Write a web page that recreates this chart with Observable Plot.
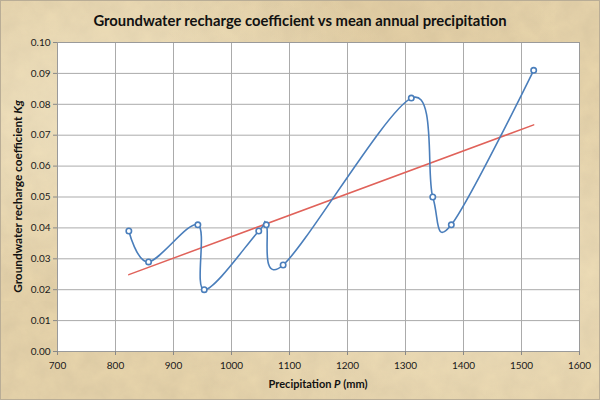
<!DOCTYPE html>
<html>
<head>
<meta charset="utf-8">
<script src="https://cdn.jsdelivr.net/npm/d3@7"></script>
<script src="https://cdn.jsdelivr.net/npm/@observablehq/plot@0.6"></script>
<style>
  html, body { margin: 0; padding: 0; }
  #wrap {
    position: relative; width: 600px; height: 400px; box-sizing: border-box;
    border: 1px solid #b9ad96;
    background-color: #e9d6ac;
    background-image:
      radial-gradient(ellipse at 20% 30%, rgba(255,248,225,0.4), rgba(255,248,225,0) 45%),
      radial-gradient(ellipse at 80% 70%, rgba(255,245,220,0.3), rgba(255,245,220,0) 50%),
      radial-gradient(ellipse at 60% 10%, rgba(210,185,140,0.25), rgba(210,185,140,0) 40%),
      url("data:image/svg+xml;utf8,<svg xmlns='http://www.w3.org/2000/svg' width='300' height='300'><filter id='n'><feTurbulence type='fractalNoise' baseFrequency='0.05' numOctaves='4' seed='3'/><feColorMatrix values='0 0 0 0 0.55  0 0 0 0 0.45  0 0 0 0 0.3  0 0 0 0.4 0'/></filter><rect width='300' height='300' filter='url(%23n)'/></svg>");
    font-family: Lato, "Open Sans", sans-serif;
    overflow: hidden;
  }
  #title {
    height: 30px; line-height: 38px; text-align: center;
    font-weight: bold; font-size: 14.8px; color: #111;
  }
</style>
</head>
<body>
<div id="wrap">
  <div id="title">Groundwater recharge coefficient vs mean annual precipitation</div>
  <div id="chart"></div>
</div>
<script>
// Data
const precipitation = [823, 857, 942, 953, 1047, 1060, 1089, 1310, 1347, 1379, 1521];
const rechargeCoef  = [0.039, 0.029, 0.041, 0.020, 0.039, 0.041, 0.028, 0.082, 0.050, 0.041, 0.091];
const xTicks = [700, 800, 900, 1000, 1100, 1200, 1300, 1400, 1500, 1600];
const yTicks = [0, 0.01, 0.02, 0.03, 0.04, 0.05, 0.06, 0.07, 0.08, 0.09, 0.10];

const data = precipitation.map((p, i) => ({p, k: rechargeCoef[i]}));

const gridColor = "#ababab";
const blue = "#4a7ebb";
const red = "#e0625a";

const W = 598, H = 368, mL = 56, mR = 20, mT = 11, mB = 48;

const chart = Plot.plot({
  width: W,
  height: H,
  marginLeft: mL,
  marginRight: mR,
  marginTop: mT,
  marginBottom: mB,
  style: {fontFamily: "Lato, 'Open Sans', sans-serif", fontSize: "10px", color: "#1a1a1a", background: "transparent"},
  x: {domain: [700, 1600]},
  y: {domain: [0, 0.1]},
  marks: [
    Plot.frame({fill: "white"}),
    Plot.gridX(xTicks, {stroke: gridColor, strokeOpacity: 1, strokeWidth: 1}),
    Plot.gridY(yTicks, {stroke: gridColor, strokeOpacity: 1, strokeWidth: 1}),
    Plot.frame({stroke: "#9a9a9a"}),
    Plot.axisY(yTicks, {tickFormat: d => d.toFixed(2), tickSize: 4, tickPadding: 3, stroke: "#888", label: null}),
    Plot.axisX(xTicks, {tickFormat: d => String(d), tickSize: 4, tickPadding: 6, stroke: "#888", label: null}),
    Plot.linearRegressionY(data, {x: "p", y: "k", stroke: red, strokeWidth: 1.5, ci: 0}),
    Plot.line(data, {x: "p", y: "k", curve: "cardinal", stroke: blue, strokeWidth: 1.6}),
    Plot.dot(data, {x: "p", y: "k", r: 2.7, fill: "white", stroke: blue, strokeWidth: 1.6})
  ]
});
document.getElementById("chart").appendChild(chart);

// Axis titles with italic symbols
const svg = d3.select(chart);
const plotLeft = mL, plotRight = W - mR, plotTop = mT, plotBottom = H - mB;
const yt = svg.append("text")
  .attr("transform", `translate(18,${(plotTop + plotBottom) / 2}) rotate(-90)`)
  .attr("text-anchor", "middle")
  .attr("dominant-baseline", "middle")
  .attr("font-weight", "bold")
  .attr("font-size", "11.8px")
  .attr("fill", "#111");
yt.append("tspan").text("Groundwater recharge coefficient ");
yt.append("tspan").attr("font-style", "italic").text("Kg");

const xt = svg.append("text")
  .attr("x", (plotLeft + plotRight) / 2)
  .attr("y", plotBottom + 34)
  .attr("text-anchor", "middle")
  .attr("dominant-baseline", "middle")
  .attr("font-weight", "bold")
  .attr("font-size", "11px")
  .attr("fill", "#111");
xt.append("tspan").text("Precipitation ");
xt.append("tspan").attr("font-style", "italic").text("P");
xt.append("tspan").text(" (mm)");
</script>
</body>
</html>
